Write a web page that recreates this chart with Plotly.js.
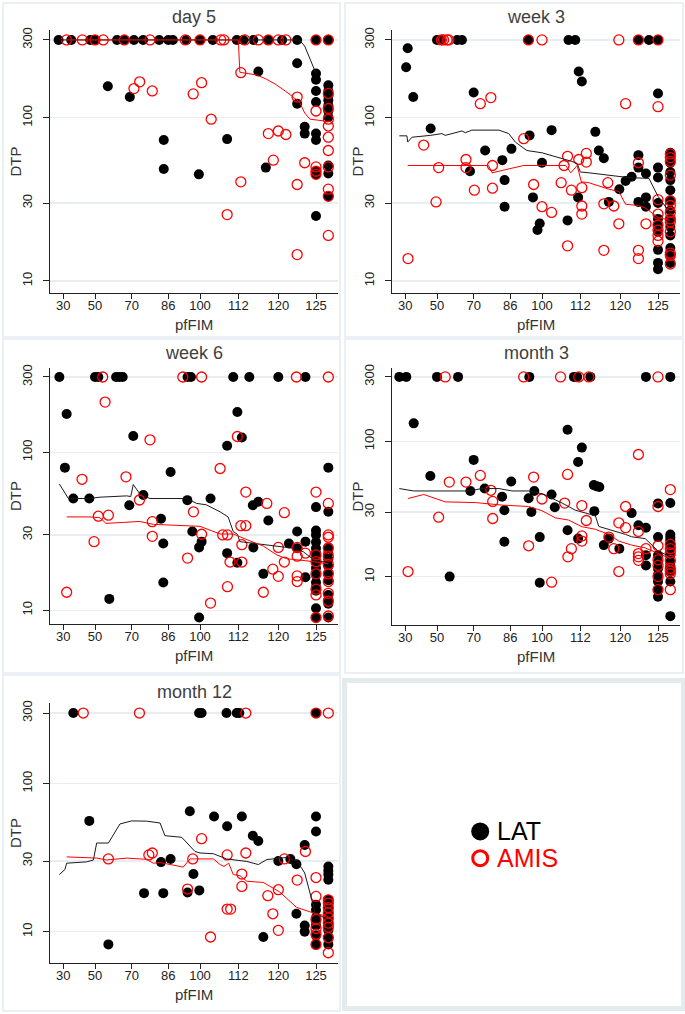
<!DOCTYPE html>
<html><head><meta charset="utf-8">
<script src="https://cdn.plot.ly/plotly-3.0.1.min.js"></script>
<style>html,body{margin:0;padding:0;background:#fff}#chart{width:685px;height:1014px}</style>
</head><body><div id="chart"></div><script>
// ---------- axis ticks ----------
const xTicks = [30, 50, 70, 86, 100, 112, 120, 125];
const yTicks = [10, 30, 100, 300];
const seriesNames = ['LAT', 'AMIS'];
const panelTitles = ['day 5', 'week 3', 'week 6', 'month 3', 'month 12'];

// ---------- day 5 ----------
const d5_lat300 = [27, 35, 47, 50, 62, 66, 71, 75, 82, 86, 88, 94, 100, 104, 111.5, 113, 115, 118, 120.5, 122.5, 125, 126];
const d5_lat = [[57,156],[69,134],[84,73],[84,48.5],[99.5,45],[108.5,74],[116,192],[117.5,49.5],[122.5,216],[122.5,122],[123.5,88],[123.5,80]];
const d5_lat125 = [187, 171, 146, 125, 80, 73, 47, 45, 25];
const d5_lat126 = [158, 146, 137, 128, 119, 110, 101, 51, 45.5, 33];
const d5_amis300 = [32, 42, 50, 54.5, 66, 78, 93.5, 100, 106.5, 107.5, 113.3, 116, 118, 120, 121, 125, 126];
const d5_amis = [[71,151],[73.5,166],[79,146],[97,140],[100.5,164],[103.5,98],[112.5,189],[108.5,25.5],[112.5,40.5],[118,80],[119,55],[120,83],[121,79],[122.5,134],[122.5,39],[122.5,14.5],[123.5,53]];
const d5_amis125 = [110, 50, 47, 45];
const d5_amis126 = [141, 114, 98, 89, 76, 63, 50, 36.5, 33, 19];
const d5_latLineX = [28, 60, 100, 122.8, 123.5, 125];
const d5_latLineY = [300, 300, 300, 300, 275, 187];
const d5_amisLineX = [32, 112, 112.3, 115.7, 117.7, 119.5, 121, 122.8, 123.5, 124.2, 125.5, 126];
const d5_amisLineY = [300, 300, 190, 183, 172, 160, 145, 125, 107, 98, 96, 94];

// ---------- week 3 ----------
const w3_lat300 = [50, 52, 61, 63.6, 94, 108.3, 110.4, 122.4, 123.8, 125];
const w3_lat = [[31.5,267],[30.5,204],[35,134],[46,86],[70,143],[75,63],[68,47],[82.5,55],[83.5,41.5],[83.5,28.5],[86.5,64.5],[94.5,78],[96,32.5],[98,20.5],[99,22.5],[100,53],[103,84],[108,23.5],[111.3,32.5],[111.5,192],[112.3,167],[115,82],[115.7,63],[116.7,56.5],[117.7,30.5],[119.8,36.5],[120.7,41],[121.5,43.5],[122.4,59],[122.4,49.5],[122.4,30.5],[123.4,45.5],[123.4,32.5],[123.4,28.5]];
const w3_lat125 = [141, 49.5, 43, 30, 24, 22, 20, 15.5, 12.9, 11.8];
const w3_lat126 = [61, 58, 53, 46.5, 41.5, 36, 31, 27, 24, 21.5, 19, 15.9, 14.5, 12.9];
const w3_amis300 = [52.4, 53.6, 55.5, 56.4, 94, 100, 119.7, 122.4, 125];
const w3_amis = [[31.7,13.7],[41.6,68],[50.9,49.5],[49.4,30.5],[65.8,55.5],[65.8,49.5],[70.3,36],[72.9,122],[77.5,133],[78.2,51],[78.2,37],[91.9,74.5],[96.3,39],[100,28.5],[103,26.3],[106,40],[106.9,51],[108,58],[108,16.4],[109.2,36],[111.5,55.5],[112.3,37.3],[112.3,28.8],[112.3,25.7],[113.2,60.5],[113.2,53.5],[116.7,29.7],[116.7,15.4],[117.5,40],[118.7,28.8],[119.7,22.4],[120.7,122],[122.4,53],[122.4,15.4],[122.4,13.7],[123.4,22.4]];
const w3_amis125 = [117, 31.5, 25.7, 22, 20.5, 19, 17.5];
const w3_amis126 = [60, 57, 54, 44.5, 31, 29, 26.3, 24, 23, 20, 14.8, 14.3, 12.7];
const w3_latLineX = [26.2, 31, 31.5, 34.2, 45.8, 52.7, 54.5, 61, 63.6, 65.5, 69, 81, 85.3, 88.2, 93.3, 100, 104.2, 109.4, 111, 112, 113.7, 117.7, 121.1, 123.8, 125, 126];
const w3_latLineY = [77.5, 77.5, 71, 76, 78, 80, 78, 82, 83, 81, 84, 84, 80, 71, 63, 61, 58, 54, 52.5, 46.5, 46, 44.5, 43, 42.5, 33, 26];
const w3_amisLineX = [31.5, 76.5, 78, 91.9, 107.4, 109, 111, 112.2, 113.7, 115.7, 117.7, 119.7, 120.7, 122.4, 123.3, 125, 126];
const w3_amisLineY = [51, 51, 46, 51, 51, 46, 51, 40.5, 40, 38, 36.5, 35.3, 29.5, 29, 28, 24.5, 23.5];

// ---------- week 6 ----------
const w6_lat300 = [27.5, 50, 51.8, 61.5, 63.3, 65.1, 94.5, 96, 110.4, 114.2, 120, 123.6];
const w6_lat = [[32.1,175],[31,80],[36.3,51],[46.4,51],[68.7,46.2],[70.7,127],[75.1,53.7],[57.8,11.8],[82.8,38],[83.8,26.5],[83.8,15],[87,75],[94.4,49.8],[96.6,31.5],[99.6,25],[100.5,27.2],[99.6,9],[103.3,51],[108.5,110],[108.5,23],[111.7,180],[112.7,124],[111.7,20],[114.9,46.2],[116,48.7],[115,25],[117,17],[118,37],[121.4,26.5],[122.5,31.5],[122.5,24.7],[123.6,27.2],[123.6,16.2]];
const w6_lat125 = [45, 32, 30, 27, 24.7, 23, 22, 20, 18.5, 16.7, 15, 14, 13.3, 10.3, 9];
const w6_lat126 = [80, 42, 25, 23, 21, 19, 17.2, 15.5, 12.5, 11.6, 11, 9];
const w6_amis300 = [54.2, 92.4, 100.5, 122.4, 126];
const w6_amis = [[55.5,208],[32.1,13],[41.8,67.5],[49.4,27.2],[51.8,39.4],[57.3,40],[66.9,70],[73.4,49.9],[78,120],[79,36.4],[79,29.4],[94.5,21.4],[97.1,42],[100.5,30.3],[103.3,11.1],[106.3,79],[107.1,30],[108.6,30],[108.6,14.1],[109.4,20.2],[111.7,126],[112.7,26],[112.7,20.2],[112.5,34.3],[113.5,34.3],[113.5,56],[117.7,47.5],[117,13],[118.9,18.2],[120,16.4],[120,25],[120.8,20.2],[120.8,41.5],[122.5,25],[122.5,22],[122.5,16.5],[122.5,15.2],[123.6,23]];
const w6_amis125 = [56, 22.4, 20.3, 17, 13.6, 12.5, 9];
const w6_amis126 = [47.5, 30, 29, 24.7, 22, 19.5, 17, 15.2, 12.8, 11.4, 9.2];
const w6_latLineX = [27.5, 33.2, 45.8, 52.7, 67.3, 69.5, 70.7, 73.6, 78, 94.1, 98.5, 102, 106.3, 108.8, 110.4, 111.7, 112.3, 115, 117.7, 120.2, 122, 123.3, 125, 126];
const w6_latLineY = [63, 51, 51, 52, 53, 52.5, 62.5, 54.5, 51, 51, 47.5, 46.5, 42, 39, 31.5, 30.3, 27.2, 26.5, 25.8, 25.3, 24.7, 23.5, 20.3, 20.3];
const w6_amisLineX = [32.1, 46.8, 52.7, 56, 65.5, 73.4, 79.4, 91.2, 100, 106.3, 110.4, 113.7, 117, 119.7, 121.1, 123.6, 125, 126];
const w6_amisLineY = [39, 39, 38.5, 35.5, 36, 36.5, 35, 34.5, 34, 30.4, 30.4, 28, 25.5, 22.4, 21.2, 20.6, 20.2, 19.7];

// ---------- month 3 ----------
const m3_lat300 = [26.2, 30.6, 50, 61.5, 94.4, 110, 111, 114, 123.4, 126];
const m3_lat = [[35.3,136],[45.8,55.5],[70,73],[68.2,43],[74.8,44.8],[82.4,39],[83.4,31],[83.4,18.1],[86.4,50.5],[56.9,10],[94.1,38],[95.3,30.1],[96.6,43],[99,19.6],[99,9],[103,40.5],[104,32.6],[108,122],[108,22],[111.3,70.5],[112.3,90],[111.3,19.1],[114.7,47.5],[115.3,46.5],[115.8,46],[114.8,30.5],[116.7,17.1],[117.7,19.1],[119.8,16.1],[121.5,29.5],[122.4,24],[123.4,23],[123.4,12.1],[123.4,14.4]];
const m3_lat125 = [34.8, 19.6, 14.4, 12.8, 11.5, 10.3, 9.2, 8, 7.1];
const m3_lat126 = [35, 20.5, 19.5, 18.6, 17.5, 16.2, 14.4, 12.8, 12.1, 11.5, 10.8, 9.2, 5.1];
const m3_amis300 = [54.5, 91.9, 105.8, 111.5, 113.7, 125];
const m3_amis = [[31.7,10.9],[50.9,27.5],[56.7,50],[65.8,50],[72.9,56],[77.5,43.5],[78.3,36],[78.3,26.9],[96.3,54.5],[94.1,16.9],[100,37.5],[103,9.1],[107.1,35],[108,57],[108.1,14],[109.2,16.1],[112.3,33.5],[112.3,20],[112.3,18.3],[113.2,26],[117.7,19.6],[118.7,16.1],[119.7,25],[119.7,10.9],[120.7,33],[120.7,23],[122.4,80],[122.4,21.6],[122.4,14.8],[122.4,14],[122.4,13.2],[123.4,16.1]];
const m3_amis125 = [33, 16.9, 13.3, 12.1, 10, 8];
const m3_amis126 = [44, 17.3, 16.1, 15, 13.2, 11.5, 11, 10.5, 8];
const m3_latLineX = [26.2, 35.3, 52.7, 67.3, 73.6, 81, 86.7, 94.1, 100, 106.3, 110.4, 113.7, 115, 115.7, 119.7, 120.7, 121.5, 123.3, 125, 126];
const m3_latLineY = [44.8, 43, 43, 43, 44.8, 44.8, 43, 43, 41, 35, 31, 29, 28.2, 23.5, 21.4, 20.5, 19.7, 19.1, 15.5, 14];
const m3_amisLineX = [31.7, 41.6, 54.5, 70.7, 82.4, 94.1, 100, 104.2, 108.3, 112.3, 115, 117.7, 119.7, 121.5, 123.3, 125, 126];
const m3_amisLineY = [37.8, 40.5, 35.7, 35.3, 33.8, 33, 30.7, 27.2, 26.2, 23.4, 22.4, 20.5, 18.3, 17.1, 16.3, 14.8, 13.6];

// ---------- month 12 ----------
const m12_lat300 = [36.3, 99.6, 100.5, 108.3, 111.5, 112.2, 125];
const m12_lat = [[46.4,56],[57.3,8.2],[75.4,18.2],[83.8,18.2],[82.8,29.5],[87,31],[94.5,18.4],[95.5,65],[97.1,24.5],[99.7,19],[104.4,60],[108.5,51.5],[112.7,60],[114.9,44.5],[116,41],[117,9.2],[120,30],[121.6,31],[122.4,28.5],[122.4,13.2],[123.5,38.5],[123.5,11],[123.5,10]];
const m12_lat125 = [60, 47.5, 15.2, 14, 12.4, 11.8, 11, 9.4, 8.2];
const m12_lat126 = [27.5, 25.8, 24.3, 22.4, 16.4, 15.5, 14.6, 13.4, 12.1, 11.2, 10.2, 9.2, 8.2];
const m12_amis300 = [42.6, 73.4, 113.5, 125, 126];
const m12_amis = [[57.3,31],[77.5,33],[79,34],[96.8,31],[100.5,42.5],[103.3,9.2],[94.5,19.4],[108.5,33],[108.5,14.2],[109.6,14.2],[112.7,24.5],[112.7,20.2],[113.5,34],[117.9,17.5],[118.9,13.2],[120,19.2],[120,10.2],[120.8,31],[122.5,22.3],[123.6,34.8]];
const m12_amis125 = [23.2, 17.3, 12.1, 10.5, 9.6, 8.2];
const m12_amis126 = [16.4, 15.6, 14.5, 13.4, 12.4, 11.4, 10.7, 9.1, 7.2];
const m12_latLineX = [27.5, 31, 32.1, 44.7, 49, 50.9, 57.3, 63.6, 70, 76.5, 82.4, 84.5, 91.9, 97.8, 100, 104.2, 108.3, 113.7, 116, 117.7, 121.1, 122.5, 123.5, 124.9, 126];
const m12_latLineY = [24.3, 26.3, 29, 29.6, 30.5, 39.7, 39.7, 53.4, 56, 55.8, 54.2, 44.5, 43.4, 34.8, 34, 33.6, 31, 29.8, 28.4, 30.7, 31.7, 30, 24.9, 13.4, 12];
const m12_amisLineX = [32.1, 50.9, 56.4, 67.3, 76.5, 79.4, 82.4, 92.6, 95.6, 104.2, 106.3, 107.5, 109, 110.4, 112.3, 113.7, 117, 120.2, 122.4, 125, 126];
const m12_amisLineY = [32, 31.4, 30.5, 31.4, 30.8, 29, 29.3, 27.3, 31, 31, 28.4, 27.6, 29, 24.3, 23.9, 21.9, 21.5, 18.5, 14.6, 13.2, 12.7];

const CENSOR = 300;

// ---------- build ----------
const panels = [
  {lat300:d5_lat300, lat:d5_lat, lat125:d5_lat125, lat126:d5_lat126, amis300:d5_amis300, amis:d5_amis, amis125:d5_amis125, amis126:d5_amis126, lx:d5_latLineX, ly:d5_latLineY, ax:d5_amisLineX, ay:d5_amisLineY},
  {lat300:w3_lat300, lat:w3_lat, lat125:w3_lat125, lat126:w3_lat126, amis300:w3_amis300, amis:w3_amis, amis125:w3_amis125, amis126:w3_amis126, lx:w3_latLineX, ly:w3_latLineY, ax:w3_amisLineX, ay:w3_amisLineY},
  {lat300:w6_lat300, lat:w6_lat, lat125:w6_lat125, lat126:w6_lat126, amis300:w6_amis300, amis:w6_amis, amis125:w6_amis125, amis126:w6_amis126, lx:w6_latLineX, ly:w6_latLineY, ax:w6_amisLineX, ay:w6_amisLineY},
  {lat300:m3_lat300, lat:m3_lat, lat125:m3_lat125, lat126:m3_lat126, amis300:m3_amis300, amis:m3_amis, amis125:m3_amis125, amis126:m3_amis126, lx:m3_latLineX, ly:m3_latLineY, ax:m3_amisLineX, ay:m3_amisLineY},
  {lat300:m12_lat300, lat:m12_lat, lat125:m12_lat125, lat126:m12_lat126, amis300:m12_amis300, amis:m12_amis, amis125:m12_amis125, amis126:m12_amis126, lx:m12_latLineX, ly:m12_latLineY, ax:m12_amisLineX, ay:m12_amisLineY}
];

// non-linear pfFIM display scale (piecewise linear between tick knots)
const KP = [20, 30, 50, 70, 86, 100, 112, 120, 125, 126];
const KX = [142.5, 190, 285, 395, 505, 600, 715, 835, 948, 985];
function T(v){
  let i = 0;
  if (v <= KP[0]) i = 0;
  else if (v >= KP[KP.length-1]) i = KP.length - 2;
  else { while (v > KP[i+1]) i++; }
  return KX[i] + (v - KP[i]) * (KX[i+1] - KX[i]) / (KP[i+1] - KP[i]);
}

const W = 685, H = 1014;
const boxes = [[50,338,30,293],[392,680,30,293],[50,338,368,624],[392,680,368,625],[50,338,703,963]];
const yRanges = [[0.926,2.538],[0.926,2.538],[0.913,2.534],[0.642,2.543],[0.788,2.545]];
const FONT = 'Liberation Sans, Arial, Helvetica, sans-serif';

const traces = [];
const layout = {
  width: W, height: H, margin:{l:0,r:0,t:0,b:0},
  paper_bgcolor:'#fff', plot_bgcolor:'#fff', showlegend:false,
  font:{family:FONT, color:'#222'},
  annotations:[], shapes:[]
};

panels.forEach((p, i) => {
  const s = i === 0 ? '' : String(i+1);
  const xa = 'x' + s, ya = 'y' + s;
  const [x0, x1, y0, y1] = boxes[i];

  const latX = p.lat300.concat(p.lat.map(d=>d[0]), p.lat125.map(()=>125), p.lat126.map(()=>126));
  const latY = p.lat300.map(()=>CENSOR).concat(p.lat.map(d=>d[1]), p.lat125, p.lat126);
  const amX = p.amis300.concat(p.amis.map(d=>d[0]), p.amis125.map(()=>125), p.amis126.map(()=>126));
  const amY = p.amis300.map(()=>CENSOR).concat(p.amis.map(d=>d[1]), p.amis125, p.amis126);

  traces.push({x:latX.map(T), y:latY, xaxis:xa, yaxis:ya, type:'scatter', mode:'markers', name:seriesNames[0],
    marker:{symbol:'circle', size:10, color:'#000'}, cliponaxis:false});
  traces.push({x:amX.map(T), y:amY, xaxis:xa, yaxis:ya, type:'scatter', mode:'markers', name:seriesNames[1],
    marker:{symbol:'circle-open', size:10, color:'#ff0000', line:{width:1.3, color:'#ff0000'}}, cliponaxis:false});
  traces.push({x:p.lx.map(T), y:p.ly, xaxis:xa, yaxis:ya, type:'scatter', mode:'lines', line:{color:'#1a1a1a', width:1}});
  traces.push({x:p.ax.map(T), y:p.ay, xaxis:xa, yaxis:ya, type:'scatter', mode:'lines', line:{color:'#ff0000', width:1}});

  layout['xaxis' + s] = {
    domain:[x0/W, x1/W], range:[150, 1014], anchor:ya,
    tickvals: xTicks.map(T), ticktext: xTicks.map(String),
    ticks:'outside', ticklen:5, tickwidth:1, tickcolor:'#222', ticklabelstandoff:-5,
    showline:true, linecolor:'#222', linewidth:1.3, showgrid:false, zeroline:false,
    tickfont:{size:13, color:'#222', family:FONT}, fixedrange:true
  };
  layout['yaxis' + s] = {
    domain:[1 - y1/H, 1 - y0/H], type:'log', range:yRanges[i], anchor:xa,
    tickvals: yTicks, ticktext: yTicks.map(String), tickangle:-90,
    ticks:'outside', ticklen:6, tickwidth:1, tickcolor:'#222', ticklabelstandoff:6,
    showline:true, linecolor:'#222', linewidth:1.3,
    showgrid:true, gridcolor:'#e6eef2', gridwidth:1.3, zeroline:false,
    tickfont:{size:13, color:'#222', family:FONT}, fixedrange:true
  };

  // panel title
  layout.annotations.push({text:panelTitles[i], xref:'paper', yref:'paper', x:(x0+x1)/2/W, y:1-17/H - (i>=2 ? (i>=4 ? 675/H : 336/H) : 0),
    xanchor:'center', yanchor:'middle', showarrow:false, font:{size:18, color:'#404040', family:FONT}});
  // axis titles
  layout.annotations.push({text:'pfFIM', xref:'paper', yref:'paper', x:(x0+x1)/2/W, y:1-(y1+31)/H,
    xanchor:'center', yanchor:'middle', showarrow:false, font:{size:15, color:'#333', family:FONT}});
  layout.annotations.push({text:'DTP', xref:'paper', yref:'paper', x:(x0-35)/W, y:1-(y0+y1)/2/H, textangle:-90,
    xanchor:'center', yanchor:'middle', showarrow:false, font:{size:15, color:'#333', family:FONT}});

  // panel frame
  const fr = [[3,340,3,337],[345,683,3,337],[3,340,339,673],[345,683,339,673],[3,340,675,1011]][i];
  layout.shapes.push({type:'rect', xref:'paper', yref:'paper', x0:fr[0]/W, x1:fr[1]/W, y0:1-fr[3]/H, y1:1-fr[2]/H,
    line:{color:'#e3ebef', width:1.5}, fillcolor:'rgba(0,0,0,0)', layer:'below'});
});

// legend panel (custom)
layout.shapes.push({type:'rect', xref:'paper', yref:'paper', x0:344.5/W, x1:683.5/W, y0:1-1008.5/H, y1:1-680.5/H,
  line:{color:'#e3ebef', width:5}, fillcolor:'rgba(0,0,0,0)'});
layout.xaxis6 = {domain:[345/W, 683/W], range:[0,1], visible:false, fixedrange:true, anchor:'y6'};
layout.yaxis6 = {domain:[1-1008/H, 1-681/H], range:[0,1], visible:false, fixedrange:true, anchor:'x6'};
const legX = 0.40, legY = [0.54, 0.458];
traces.push({x:[legX], y:[legY[0]], xaxis:'x6', yaxis:'y6', type:'scatter', mode:'markers', marker:{symbol:'circle', size:18, color:'#000'}});
traces.push({x:[legX], y:[legY[1]], xaxis:'x6', yaxis:'y6', type:'scatter', mode:'markers', marker:{symbol:'circle-open', size:15, color:'#ff0000', line:{width:3, color:'#ff0000'}}});
layout.annotations.push({text:seriesNames[0], xref:'x6', yref:'y6', x:legX + 0.045, y:legY[0], xanchor:'left', yanchor:'middle', showarrow:false, font:{size:25, color:'#000', family:FONT}});
layout.annotations.push({text:seriesNames[1], xref:'x6', yref:'y6', x:legX + 0.045, y:legY[1], xanchor:'left', yanchor:'middle', showarrow:false, font:{size:25, color:'#ff0000', family:FONT}});

Plotly.newPlot('chart', traces, layout, {staticPlot:true, displayModeBar:false});
</script></body></html>
